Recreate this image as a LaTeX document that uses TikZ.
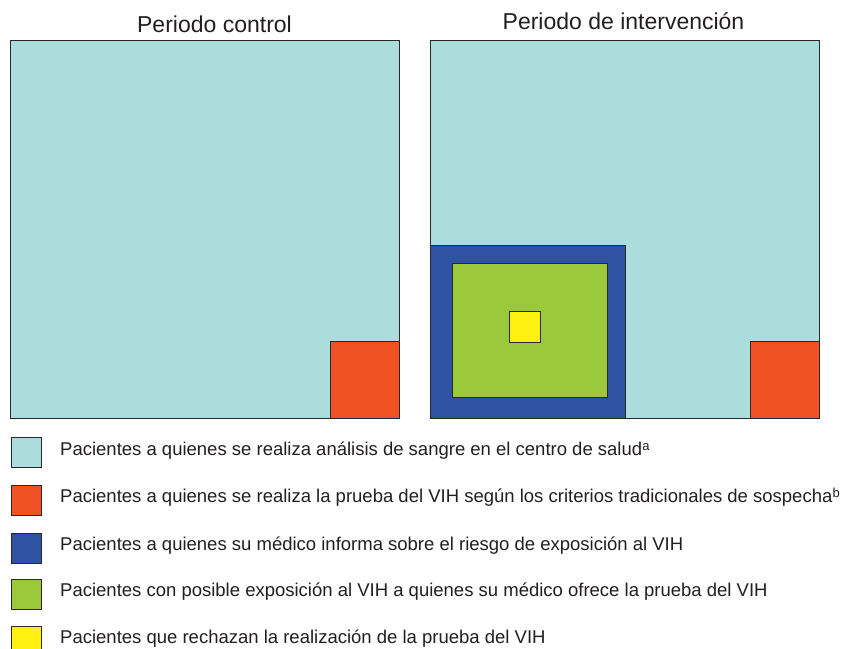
\documentclass[tikz,border=0pt]{standalone}
\usepackage{fontspec}
\setmainfont{Liberation Sans}
\definecolor{cyanfill}{RGB}{171,221,221}
\definecolor{orangefill}{RGB}{240,82,36}
\definecolor{bluefill}{RGB}{47,83,163}
\definecolor{greenfill}{RGB}{154,202,60}
\definecolor{yellowfill}{RGB}{255,240,18}
\definecolor{edgegray}{RGB}{40,40,40}
\definecolor{textgray}{RGB}{35,31,32}
\tikzset{
  box/.style={draw=edgegray, line width=0.9pt},
  title/.style={anchor=base, font=\fontsize{23}{26}\selectfont, text=textgray, inner sep=0pt},
  legtext/.style={anchor=base west, font=\fontsize{18.5}{21}\selectfont, text=textgray, inner sep=0pt},
  legbox/.style={draw=edgegray, line width=0.9pt}
}
\newcommand{\supx}[1]{\raisebox{0.5ex}{\fontsize{13}{14}\selectfont #1}}
\begin{document}
\begin{tikzpicture}[x=1pt,y=-1pt]
\useasboundingbox (0,0) rectangle (843,648);
\fill[white] (0,0) rectangle (843,648);
% titles
\node[title] (t1) at (214.5,32) {Periodo control};
\node[title] (t2) at (623.5,29.5) {Periodo de intervención};
% left panel
\draw[box, fill=cyanfill] (10,40) rectangle (399.5,418.5);
\draw[box, fill=orangefill] (330,341) rectangle (399.5,418.5);
% right panel
\draw[box, fill=cyanfill] (430.5,40) rectangle (819.5,418.5);
\draw[box, fill=orangefill] (750,341) rectangle (819.5,418.5);
\draw[box, fill=bluefill] (430.5,245) rectangle (625.8,418.5);
\draw[box, fill=greenfill] (452.3,263.3) rectangle (607,397.7);
\draw[box, fill=yellowfill] (509.3,311.7) rectangle (540.3,342);
% legend
\draw[legbox, fill=cyanfill] (11.7,437.3) rectangle (41.7,467.5);
\draw[legbox, fill=orangefill] (11.7,485) rectangle (41.7,515.3);
\draw[legbox, fill=bluefill] (11.7,533.3) rectangle (41.7,563.3);
\draw[legbox, fill=greenfill] (11.7,579) rectangle (41.7,609.3);
\draw[legbox, fill=yellowfill] (11.7,626.7) rectangle (41.7,656);
\node[legtext] (l1) at (60,455.7) {Pacientes a quienes se realiza análisis de sangre en el centro de salud\supx{a}};
\node[legtext] (l2) at (60,502.4) {Pacientes a quienes se realiza la prueba del VIH según los criterios tradicionales de sospecha\supx{b}};
\node[legtext] (l3) at (60,550.2) {Pacientes a quienes su médico informa sobre el riesgo de exposición al VIH};
\node[legtext] (l4) at (60,596.4) {Pacientes con posible exposición al VIH a quienes su médico ofrece la prueba del VIH};
\node[legtext] (l5) at (60,643.6) {Pacientes que rechazan la realización de la prueba del VIH};
\end{tikzpicture}
\end{document}
